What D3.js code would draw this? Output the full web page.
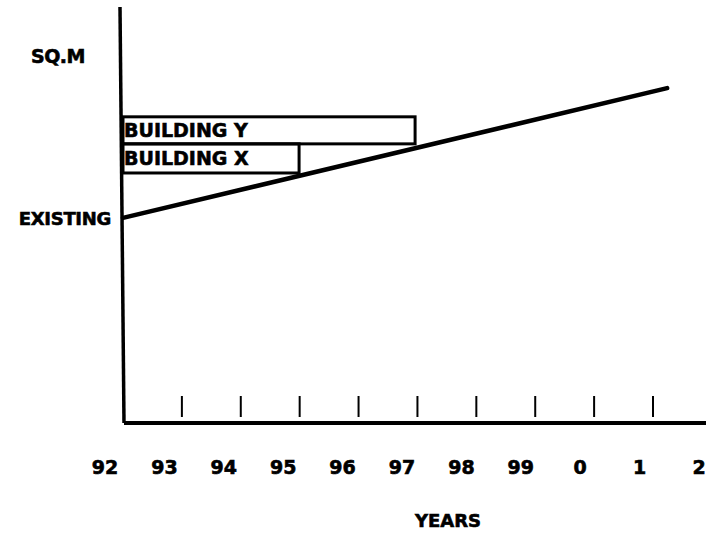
<!DOCTYPE html>
<html>
<head>
<meta charset="utf-8">
<script src="https://cdn.jsdelivr.net/npm/d3@7"></script>
<style>
  body { margin: 0; background: #fff; }
  /* heavy poster-style lettering: bold plus a thin outline */
  text { font-family: "DejaVu Sans", sans-serif; font-weight: bold; fill: #000; stroke: #000; stroke-width: 0.6; }
</style>
</head>
<body>
<div id="chart"></div>
<script>
// year labels along the bottom (92 .. 2)
const yearLabels = ['92', '93', '94', '95', '96', '97', '98', '99', '0', '1', '2']
const labelYears = [92, 93, 94, 95, 96, 97, 98, 99, 100, 101, 102]
// tick marks sit a bit right of the labels
const tickYears = [93, 94, 95, 96, 97, 98, 99, 100, 101]

// demand line (area, arbitrary sq.m units)
const demandYears = [92, 101.24]
const demandArea = [49.3, 80.5]

// building blocks: name, start year, end year, bottom area, top area
const buildings = ['BUILDING Y', 'BUILDING X']
const buildStart = [92, 92]
const buildEnd = [96.96, 94.99]
const buildBottom = [67.1, 60.1]
const buildTop = [73.6, 67.1]

const width = 706, height = 535

const svg = d3.select('#chart').append('svg')
  .attr('width', width)
  .attr('height', height)

const x = d3.scaleLinear().domain([92, 101]).range([123, 653])
const xLabel = d3.scaleLinear().domain([92, 102]).range([105, 699])
const y = d3.scaleLinear().domain([0, 100]).range([423, 7])

// building boxes
const g = svg.append('g')
buildings.forEach(function(name, i) {
  g.append('rect')
    .attr('x', x(buildStart[i]))
    .attr('y', y(buildTop[i]))
    .attr('width', x(buildEnd[i]) - x(buildStart[i]))
    .attr('height', y(buildBottom[i]) - y(buildTop[i]))
    .attr('fill', 'none')
    .attr('stroke', '#000')
    .attr('stroke-width', 3)
  g.append('text')
    .attr('x', x(buildStart[i]) + 1)
    .attr('y', (y(buildTop[i]) + y(buildBottom[i])) / 2 + 7)
    .attr('font-size', 19)
    .text(name)
})

// demand line
const line = d3.line().x(d => x(d[0])).y(d => y(d[1]))
svg.append('path')
  .datum(d3.zip(demandYears, demandArea))
  .attr('d', line)
  .attr('fill', 'none')
  .attr('stroke', '#000')
  .attr('stroke-width', 4.5)
  .attr('stroke-linecap', 'round')

// axes are plain lines, no scale ticks on y
svg.append('line')
  .attr('x1', x(92) - 3).attr('y1', y(100))
  .attr('x2', x(92) + 1).attr('y2', y(0))
  .attr('stroke', '#000').attr('stroke-width', 3.5)
svg.append('line')
  .attr('x1', x(92) + 1).attr('y1', y(0))
  .attr('x2', width).attr('y2', y(0))
  .attr('stroke', '#000').attr('stroke-width', 4)

svg.selectAll('.tick-mark')
  .data(tickYears)
  .enter().append('line')
  .attr('class', 'tick-mark')
  .attr('x1', d => x(d)).attr('x2', d => x(d))
  .attr('y1', y(0) - 27).attr('y2', y(0) - 6)
  .attr('stroke', '#000').attr('stroke-width', 2)

svg.selectAll('.year-label')
  .data(labelYears)
  .enter().append('text')
  .attr('class', 'year-label')
  .attr('x', d => xLabel(d))
  .attr('y', 474)
  .attr('text-anchor', 'middle')
  .attr('font-size', 19)
  .text((d, i) => yearLabels[i])

// axis titles
svg.append('text')
  .attr('x', 58).attr('y', 63)
  .attr('text-anchor', 'middle')
  .attr('font-size', 19)
  .attr('letter-spacing', -0.5)
  .text('SQ.M')
svg.append('text')
  .attr('x', 111).attr('y', y(demandArea[0]) + 7)
  .attr('text-anchor', 'end')
  .attr('font-size', 18)
  .attr('letter-spacing', -0.3)
  .text('EXISTING')
svg.append('text')
  .attr('x', 448).attr('y', 527)
  .attr('text-anchor', 'middle')
  .attr('font-size', 18)
  .text('YEARS')
</script>
</body>
</html>
